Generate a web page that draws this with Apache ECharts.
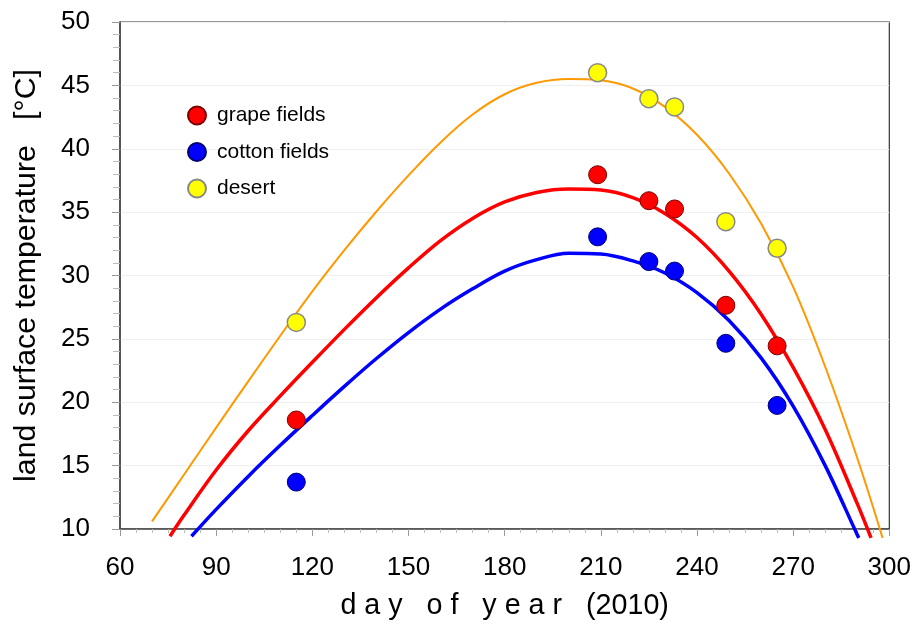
<!DOCTYPE html>
<html>
<head>
<meta charset="utf-8">
<script src="https://cdn.jsdelivr.net/npm/echarts@6/dist/echarts.min.js"></script>
<style>html,body{margin:0;padding:0;background:#fff}#c{width:914px;height:626px}</style>
</head>
<body>
<div id="c"></div>
<script>
// Observation days and measured land surface temperatures
const days = [115, 209, 225, 233, 249, 265];
const grape = [18.6, 37.95, 35.9, 35.25, 27.65, 24.45];
const cotton = [13.7, 33.05, 31.1, 30.35, 24.65, 19.75];
const desert = [26.3, 46.0, 43.95, 43.3, 34.25, 32.15];

// Fitted curves: [day, temperature]
const desertCurve = [[70,10.6],[80,14.3],[90,18.0],[100,21.65],[110,25.25],[120,28.75],[130,32.0],[140,35.05],[150,37.9],[160,40.5],[170,42.7],[180,44.3],[190,45.2],[200,45.5],[210,45.4],[220,44.75],[230,43.3],[240,41.1],[250,38.05],[260,34.1],[270,29.1],[280,22.8],[290,15.6],[297.9,9.3]];
const grapeCurve = [[75.6,9.43],[80,11.1],[90,14.65],[100,17.75],[110,20.5],[120,23.15],[130,25.75],[140,28.25],[150,30.6],[160,32.75],[170,34.5],[180,35.8],[190,36.55],[200,36.82],[210,36.75],[220,36.15],[230,34.9],[240,33.0],[250,30.35],[260,26.95],[270,22.75],[280,17.85],[290,12.0],[294.3,9.3]];
const cottonCurve = [[82.3,9.43],[90,11.55],[100,14.15],[110,16.6],[120,18.95],[130,21.25],[140,23.45],[150,25.5],[160,27.35],[170,28.95],[180,30.35],[190,31.25],[200,31.75],[210,31.7],[220,31.15],[230,30.2],[240,28.65],[250,26.45],[260,23.5],[270,19.7],[280,15.0],[290,9.55],[290.5,9.3]];

const xTicks = [60, 90, 120, 150, 180, 210, 240, 270, 300];
const yTicks = [10, 15, 20, 25, 30, 35, 40, 45, 50];

const seriesNames = ['grape fields', 'cotton fields', 'desert'];

const pairs = (xs, ys) => xs.map((x, i) => [x, ys[i]]);
const FONT = 'Liberation Sans, Arial, sans-serif';
const SMOOTH = 0.35;

const chart = echarts.init(document.getElementById('c'), null, {renderer: 'canvas'});
chart.setOption({
  animation: false,
  backgroundColor: '#fff',
  grid: {left: 120, right: 24, top: 22, bottom: 94, show: true, borderColor: '#333', borderWidth: 1.2, backgroundColor: 'transparent'},
  legend: {
    data: seriesNames,
    orient: 'vertical',
    left: 187, top: 105,
    padding: 0,
    itemWidth: 18, itemHeight: 18, itemGap: 15.5,
    textStyle: {fontFamily: FONT, fontSize: 21, color: '#000', padding: [0, 0, 0, 6]}
  },
  xAxis: {
    type: 'value', min: xTicks[0], max: xTicks[xTicks.length - 1], interval: 30,
    name: 'd a y   o f   y e a r   (2010)', nameLocation: 'middle', nameGap: 63,
    nameTextStyle: {fontFamily: FONT, fontSize: 28.7, color: '#000'},
    axisLine: {lineStyle: {color: '#444', width: 1.5}},
    axisTick: {show: true, length: 7, lineStyle: {color: '#999'}},
    minorTick: {show: true, splitNumber: 6, length: 4, lineStyle: {color: '#bbb'}},
    axisLabel: {fontFamily: FONT, fontSize: 26, color: '#000', margin: 26},
    splitLine: {show: false}
  },
  yAxis: {
    type: 'value', min: yTicks[0], max: yTicks[yTicks.length - 1], interval: 5,
    name: 'land surface temperature   [°C]', nameLocation: 'middle', nameGap: 78,
    nameTextStyle: {fontFamily: FONT, fontSize: 30.3, color: '#000'},
    axisLine: {show: true, lineStyle: {color: '#444', width: 1.5}},
    axisTick: {show: true, length: 8, lineStyle: {color: '#999'}},
    minorTick: {show: true, splitNumber: 5, length: 7, lineStyle: {color: '#bbb'}},
    axisLabel: {fontFamily: FONT, fontSize: 26, color: '#000', margin: 30},
    splitLine: {show: true, lineStyle: {color: '#efefef', width: 1}}
  },
  series: [
    {type: 'line', name: 'desert curve', data: desertCurve, smooth: SMOOTH, showSymbol: false, clip: false, z: 1,
     lineStyle: {color: '#ff9900', width: 2}, silent: true},
    {type: 'line', name: 'grape curve', data: grapeCurve, smooth: SMOOTH, showSymbol: false, clip: false, z: 2,
     lineStyle: {color: '#ff0000', width: 3.5}, silent: true},
    {type: 'line', name: 'cotton curve', data: cottonCurve, smooth: SMOOTH, showSymbol: false, clip: false, z: 2,
     lineStyle: {color: '#0000ff', width: 3.5}, silent: true},
    {type: 'scatter', name: seriesNames[0], data: pairs(days, grape), symbolSize: 18, z: 5,
     itemStyle: {color: '#ff0000', borderColor: '#7a0000', borderWidth: 1, opacity: 1}},
    {type: 'scatter', name: seriesNames[1], data: pairs(days, cotton), symbolSize: 18, z: 5,
     itemStyle: {color: '#0000ff', borderColor: '#000070', borderWidth: 1, opacity: 1}},
    {type: 'scatter', name: seriesNames[2], data: pairs(days, desert), symbolSize: 18, z: 5,
     itemStyle: {color: '#ffff00', borderColor: '#888888', borderWidth: 1.5, opacity: 1}}
  ]
});
</script>
</body>
</html>
